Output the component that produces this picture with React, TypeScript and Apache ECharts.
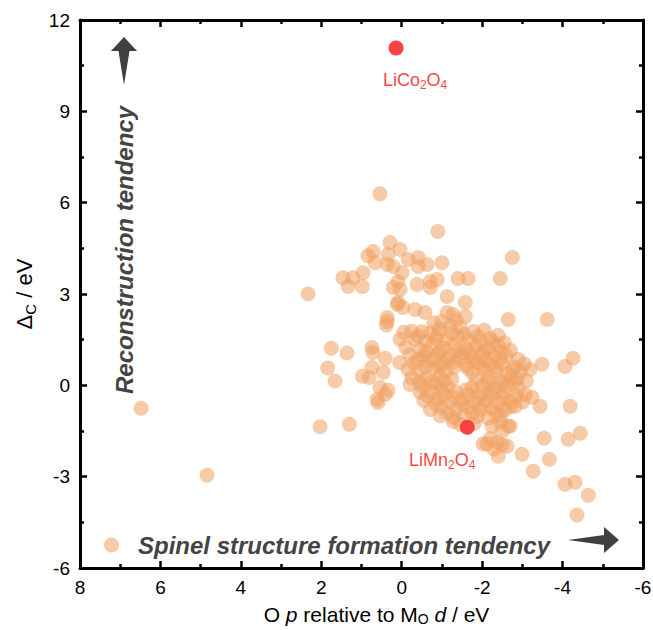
import React, { useEffect, useRef } from "react";
import * as echarts from "echarts";

const X_MIN = -6;
const X_MAX = 8;
const X_STEP = 2;
const Y_MIN = -6;
const Y_MAX = 12;
const Y_STEP = 3;

const seriesName = "Spinel structure formation tendency";

const isolatedPoints: number[][] = [
  [6.48, -0.75], [4.84, -2.95], [2.33, 3.0], [2.03, -1.36], [1.3, -1.28],
];

const westFringePoints: number[][] = [
  [1.75, 1.22], [1.36, 1.06], [1.84, 0.57], [1.66, 0.14],
  [0.74, 1.24], [0.72, 1.08], [0.41, 0.89], [0.74, 0.59], [0.46, 0.43],
  [0.98, 0.3], [0.81, 0.26], [0.54, -0.07], [0.34, -0.16], [0.41, -0.3],
  [0.61, -0.46], [0.59, -0.56], [0.36, 2.1], [0.38, 1.98],
];

const upperGroupPoints: number[][] = [
  [0.54, 6.29], [-0.9, 5.05], [-2.75, 4.2], [0.29, 4.69], [0.71, 4.4],
  [0.84, 4.26], [0.04, 4.46], [0.34, 4.3], [-0.16, 4.13], [-0.41, 4.2],
  [-0.63, 3.97], [-1.0, 4.03], [0.36, 3.97], [0.21, 3.9], [-0.41, 3.9],
  [0.66, 4.03], [0.96, 3.7], [1.46, 3.53], [1.21, 3.53], [1.33, 3.25],
  [0.98, 3.25], [-0.01, 3.7], [0.09, 3.41], [0.21, 3.21], [0.04, 3.15],
  [-0.38, 3.31], [-0.71, 3.41], [-0.88, 3.48], [-0.71, 3.21], [-1.4, 3.51],
  [-1.65, 3.51], [-2.45, 3.51], [-1.13, 2.92], [-1.58, 2.72], [0.09, 2.72],
  [-0.03, 2.56], [-0.33, 2.49], [-0.58, 2.39], [0.36, 2.23], [-1.13, 2.39],
  [-1.28, 2.33], [-1.58, 2.26], [-2.65, 2.16], [-3.62, 2.16], [0.11, 2.66],
];

const coreClusterPoints: number[][] = [
  [-0.05, 1.74], [-0.25, 1.78], [-0.5, 1.76], [-0.72, 1.72], [-0.95, 1.85],
  [-1.2, 1.95], [-1.45, 1.9], [-1.78, 1.77], [-2.05, 1.82], [-2.4, 1.64],
  [-1.0, 2.1], [-1.35, 2.15], [-0.8, 2.05],
  [0.04, 1.51], [-0.33, 1.51], [-0.6, 1.45], [-0.85, 1.55], [-1.1, 1.48],
  [-1.4, 1.6], [-1.65, 1.5], [-1.95, 1.45], [-2.2, 1.55], [-2.55, 1.4],
  [-0.1, 1.25], [-0.45, 1.18], [-0.75, 1.3], [-1.05, 1.22], [-1.3, 1.35],
  [-1.6, 1.2], [-1.85, 1.3], [-2.15, 1.2], [-2.4, 1.3], [-2.7, 1.15],
  [-0.2, 1.0], [-0.55, 0.95], [-0.9, 1.05], [-1.2, 0.98], [-1.5, 1.05],
  [-1.75, 0.92], [-2.0, 1.02], [-2.3, 0.95], [-2.6, 0.98], [-2.9, 0.85],
  [0.05, 0.75], [-0.3, 0.72], [-0.65, 0.8], [-1.0, 0.7], [-1.3, 0.78],
  [-1.6, 0.68], [-1.9, 0.75], [-2.2, 0.7], [-2.5, 0.72], [-2.8, 0.6], [-3.05, 0.7],
  [-0.16, 0.52], [-0.45, 0.45], [-0.8, 0.55], [-1.1, 0.45], [-1.75, 0.42],
  [-2.05, 0.5], [-2.35, 0.45], [-2.65, 0.4], [-2.95, 0.45],
  [-0.25, 0.25], [-0.6, 0.22], [-0.95, 0.3], [-1.25, 0.2], [-1.85, 0.18],
  [-2.15, 0.25], [-2.45, 0.15], [-2.7, 0.22], [-3.1, 0.15],
  [-0.21, 0.03], [-0.5, -0.02], [-0.85, 0.05], [-1.15, -0.05], [-1.75, -0.06],
  [-2.0, 0.0], [-2.3, -0.08], [-2.6, -0.02], [-2.9, -0.1],
  [-0.46, -0.23], [-0.75, -0.2], [-1.05, -0.3], [-1.35, -0.22], [-1.65, -0.3],
  [-1.95, -0.25], [-2.25, -0.32], [-2.55, -0.25], [-2.85, -0.35],
  [-0.55, -0.5], [-0.9, -0.45], [-1.2, -0.55], [-1.5, -0.48], [-1.8, -0.55],
  [-2.1, -0.5], [-2.4, -0.58], [-2.7, -0.5], [-3.0, -0.55],
  [-0.71, -0.79], [-1.0, -0.72], [-1.35, -0.8], [-1.65, -0.72], [-1.95, -0.8],
  [-2.25, -0.75], [-2.55, -0.82],
  [-0.96, -1.0], [-1.28, -1.05], [-1.55, -0.98], [-1.88, -1.02], [-2.15, -1.08],
  [-2.45, -1.0], [-1.28, -1.18], [-1.45, -1.28], [-1.8, -1.25], [-2.25, -1.34],
  [-2.45, -1.21], [-2.65, -1.34],
];

const coreInnerPoints: number[][] = [
  [-0.4, 1.62], [-0.9, 1.65], [-1.25, 1.72], [-1.55, 1.68], [-1.9, 1.6], [-2.25, 1.42],
  [-0.6, 1.1], [-0.95, 1.12], [-1.4, 1.15], [-1.7, 1.08], [-2.05, 1.12], [-2.45, 1.1],
  [-0.4, 0.85], [-0.8, 0.88], [-1.15, 0.85], [-1.45, 0.9], [-1.8, 0.82], [-2.1, 0.85],
  [-2.45, 0.85], [-0.6, 0.6], [-0.95, 0.62], [-1.3, 0.6], [-1.65, 0.55], [-2.0, 0.6],
  [-2.35, 0.58], [-2.75, 0.5], [-0.45, 0.1], [-0.75, 0.12], [-1.05, 0.15], [-2.15, 0.1],
  [-2.5, 0.05], [-2.8, 0.1], [-0.65, -0.35], [-1.0, -0.15], [-1.3, -0.4], [-1.6, -0.15],
  [-1.9, -0.4], [-2.2, -0.2], [-2.5, -0.42], [-0.85, -0.62], [-1.15, -0.9], [-1.5, -0.62],
  [-1.75, -0.9], [-2.05, -0.65], [-2.35, -0.9], [-2.7, -0.7],
];

const eastTailPoints: number[][] = [
  [-4.26, 0.89], [-4.06, 0.62], [-3.49, 0.69], [-3.19, 0.52], [-2.87, 0.23],
  [-3.07, -0.3], [-3.24, -0.39], [-3.44, -0.69], [-4.19, -0.69], [-2.82, -0.69],
  [-2.12, -1.93], [-2.4, -2.33], [-2.62, -2.0], [-2.7, -1.34], [-2.99, -2.26],
  [-3.27, -2.82], [-3.54, -1.74], [-3.67, -2.43], [-4.14, -1.77], [-4.44, -1.57],
  [-4.06, -3.25], [-4.31, -3.18], [-4.64, -3.61], [-4.36, -4.26], [-2.02, -1.93],
  [-2.37, -1.87], [-2.5, -1.95], [-2.3, -2.1], [-2.5, -1.5], [-2.2, -1.75],
];

const licoPoint: number[][] = [[0.14, 11.08]];
const limnPoint: number[][] = [[-1.63, -1.38]];

const FONT = "'Liberation Sans', Arial, Helvetica, sans-serif";
const RED = "#f53a3a";

function makeAxisCommon(showLabel: boolean) {
  return {
    type: "value" as const,
    axisLine: { show: true, onZero: false, lineStyle: { color: "#000", width: 3 } },
    axisTick: { show: true, inside: true, length: 7, lineStyle: { color: "#000", width: 2.5 } },
    minorTick: { show: true, splitNumber: 2, length: 4, lineStyle: { color: "#000", width: 2.5 } },
    splitLine: { show: false },
    minorSplitLine: { show: false },
    axisLabel: { show: showLabel, fontSize: 19, color: "#000", fontFamily: FONT, margin: 10 },
  };
}

export default function App() {
  const ref = useRef<HTMLDivElement>(null);

  useEffect(() => {
    if (!ref.current) return;
    const chart = echarts.init(ref.current, null, { renderer: "svg" });

    const mainData = [
      ...isolatedPoints,
      ...westFringePoints,
      ...upperGroupPoints,
      ...coreClusterPoints,
      ...coreInnerPoints,
      ...eastTailPoints,
    ];

    const labelRich = {
      a: { fontSize: 18, color: RED, fontFamily: FONT, lineHeight: 22 },
      b: { fontSize: 12, color: RED, fontFamily: FONT, lineHeight: 12, verticalAlign: "bottom" as const },
    };

    const option: any = {
      animation: false,
      backgroundColor: "#fff",
      grid: { left: 80, right: 10, top: 20, bottom: 62, containLabel: false, outerBoundsMode: "none" },
      legend: {
        data: [seriesName],
        left: 99,
        top: 528,
        icon: "circle",
        itemWidth: 15,
        itemHeight: 15,
        textStyle: {
          fontSize: 24,
          fontWeight: "bold",
          fontStyle: "italic",
          color: "#444",
          fontFamily: FONT,
          padding: [0, 0, 0, 14],
        },
      },
      xAxis: [
        {
          ...makeAxisCommon(true),
          min: X_MIN,
          max: X_MAX,
          interval: X_STEP,
          inverse: true,
          position: "bottom",
          name: "{t|O }{i|p}{t| relative to M}{s|O}{i| d}{t| / eV}",
          nameLocation: "middle",
          nameGap: 35,
          nameTextStyle: {
            padding: [0, 0, 0, 30],
            rich: {
              t: { fontSize: 21, fontFamily: FONT, color: "#000", lineHeight: 23 },
              i: { fontSize: 21, fontFamily: FONT, color: "#000", fontStyle: "italic", lineHeight: 23 },
              s: { fontSize: 14, fontFamily: FONT, color: "#000", lineHeight: 13, verticalAlign: "bottom" },
            },
          },
        },
        {
          ...makeAxisCommon(false),
          min: X_MIN,
          max: X_MAX,
          interval: X_STEP,
          inverse: true,
          position: "top",
        },
      ],
      yAxis: [
        {
          ...makeAxisCommon(true),
          min: Y_MIN,
          max: Y_MAX,
          interval: Y_STEP,
          position: "left",
          name: "{t|Δ}{s|C}{t| / eV}",
          nameLocation: "middle",
          nameGap: 40,
          nameTextStyle: {
            rich: {
              t: { fontSize: 22, fontFamily: FONT, color: "#000", lineHeight: 26 },
              s: { fontSize: 15, fontFamily: FONT, color: "#000", lineHeight: 15, verticalAlign: "bottom" },
            },
          },
        },
        {
          ...makeAxisCommon(false),
          min: Y_MIN,
          max: Y_MAX,
          interval: Y_STEP,
          position: "right",
        },
      ],
      series: [
        {
          name: seriesName,
          type: "scatter",
          xAxisIndex: 0,
          yAxisIndex: 0,
          symbol: "circle",
          symbolSize: 15,
          itemStyle: { color: "#f0a060", opacity: 0.55 },
          data: mainData,
        },
        {
          name: "LiCo2O4",
          type: "scatter",
          xAxisIndex: 0,
          yAxisIndex: 0,
          symbolSize: 15,
          itemStyle: { color: RED, opacity: 0.95 },
          data: licoPoint,
          label: {
            show: true,
            position: "inside",
            offset: [19, 32],
            formatter: "{a|LiCo}{b|2}{a|O}{b|4}",
            rich: labelRich,
          },
        },
        {
          name: "LiMn2O4",
          type: "scatter",
          xAxisIndex: 0,
          yAxisIndex: 0,
          symbolSize: 15,
          itemStyle: { color: RED, opacity: 0.95 },
          data: limnPoint,
          label: {
            show: true,
            position: "inside",
            offset: [-25, 33],
            formatter: "{a|LiMn}{b|2}{a|O}{b|4}",
            rich: labelRich,
          },
        },
      ],
      graphic: [
        {
          type: "polygon",
          shape: {
            points: [
              [124, 37], [137, 51], [129.5, 51], [124, 85], [118.5, 51], [111, 51],
            ],
          },
          style: { fill: "#404040" },
        },
        {
          type: "polygon",
          shape: {
            points: [
              [619, 540], [604, 553], [604, 545], [568, 540], [604, 535], [604, 527],
            ],
          },
          style: { fill: "#404040" },
        },
        {
          type: "text",
          x: 124,
          y: 250,
          rotation: Math.PI / 2,
          style: {
            text: "Reconstruction tendency",
            fontSize: 24,
            fontWeight: "bold",
            fontStyle: "italic",
            fontFamily: FONT,
            fill: "#444",
            align: "center",
            verticalAlign: "middle",
          },
        },
      ],
    };

    chart.setOption(option);
    return () => chart.dispose();
  }, []);

  return (
    <div
      ref={ref}
      style={{ position: "absolute", left: 0, top: 0, width: 653, height: 630, background: "#fff" }}
    />
  );
}
